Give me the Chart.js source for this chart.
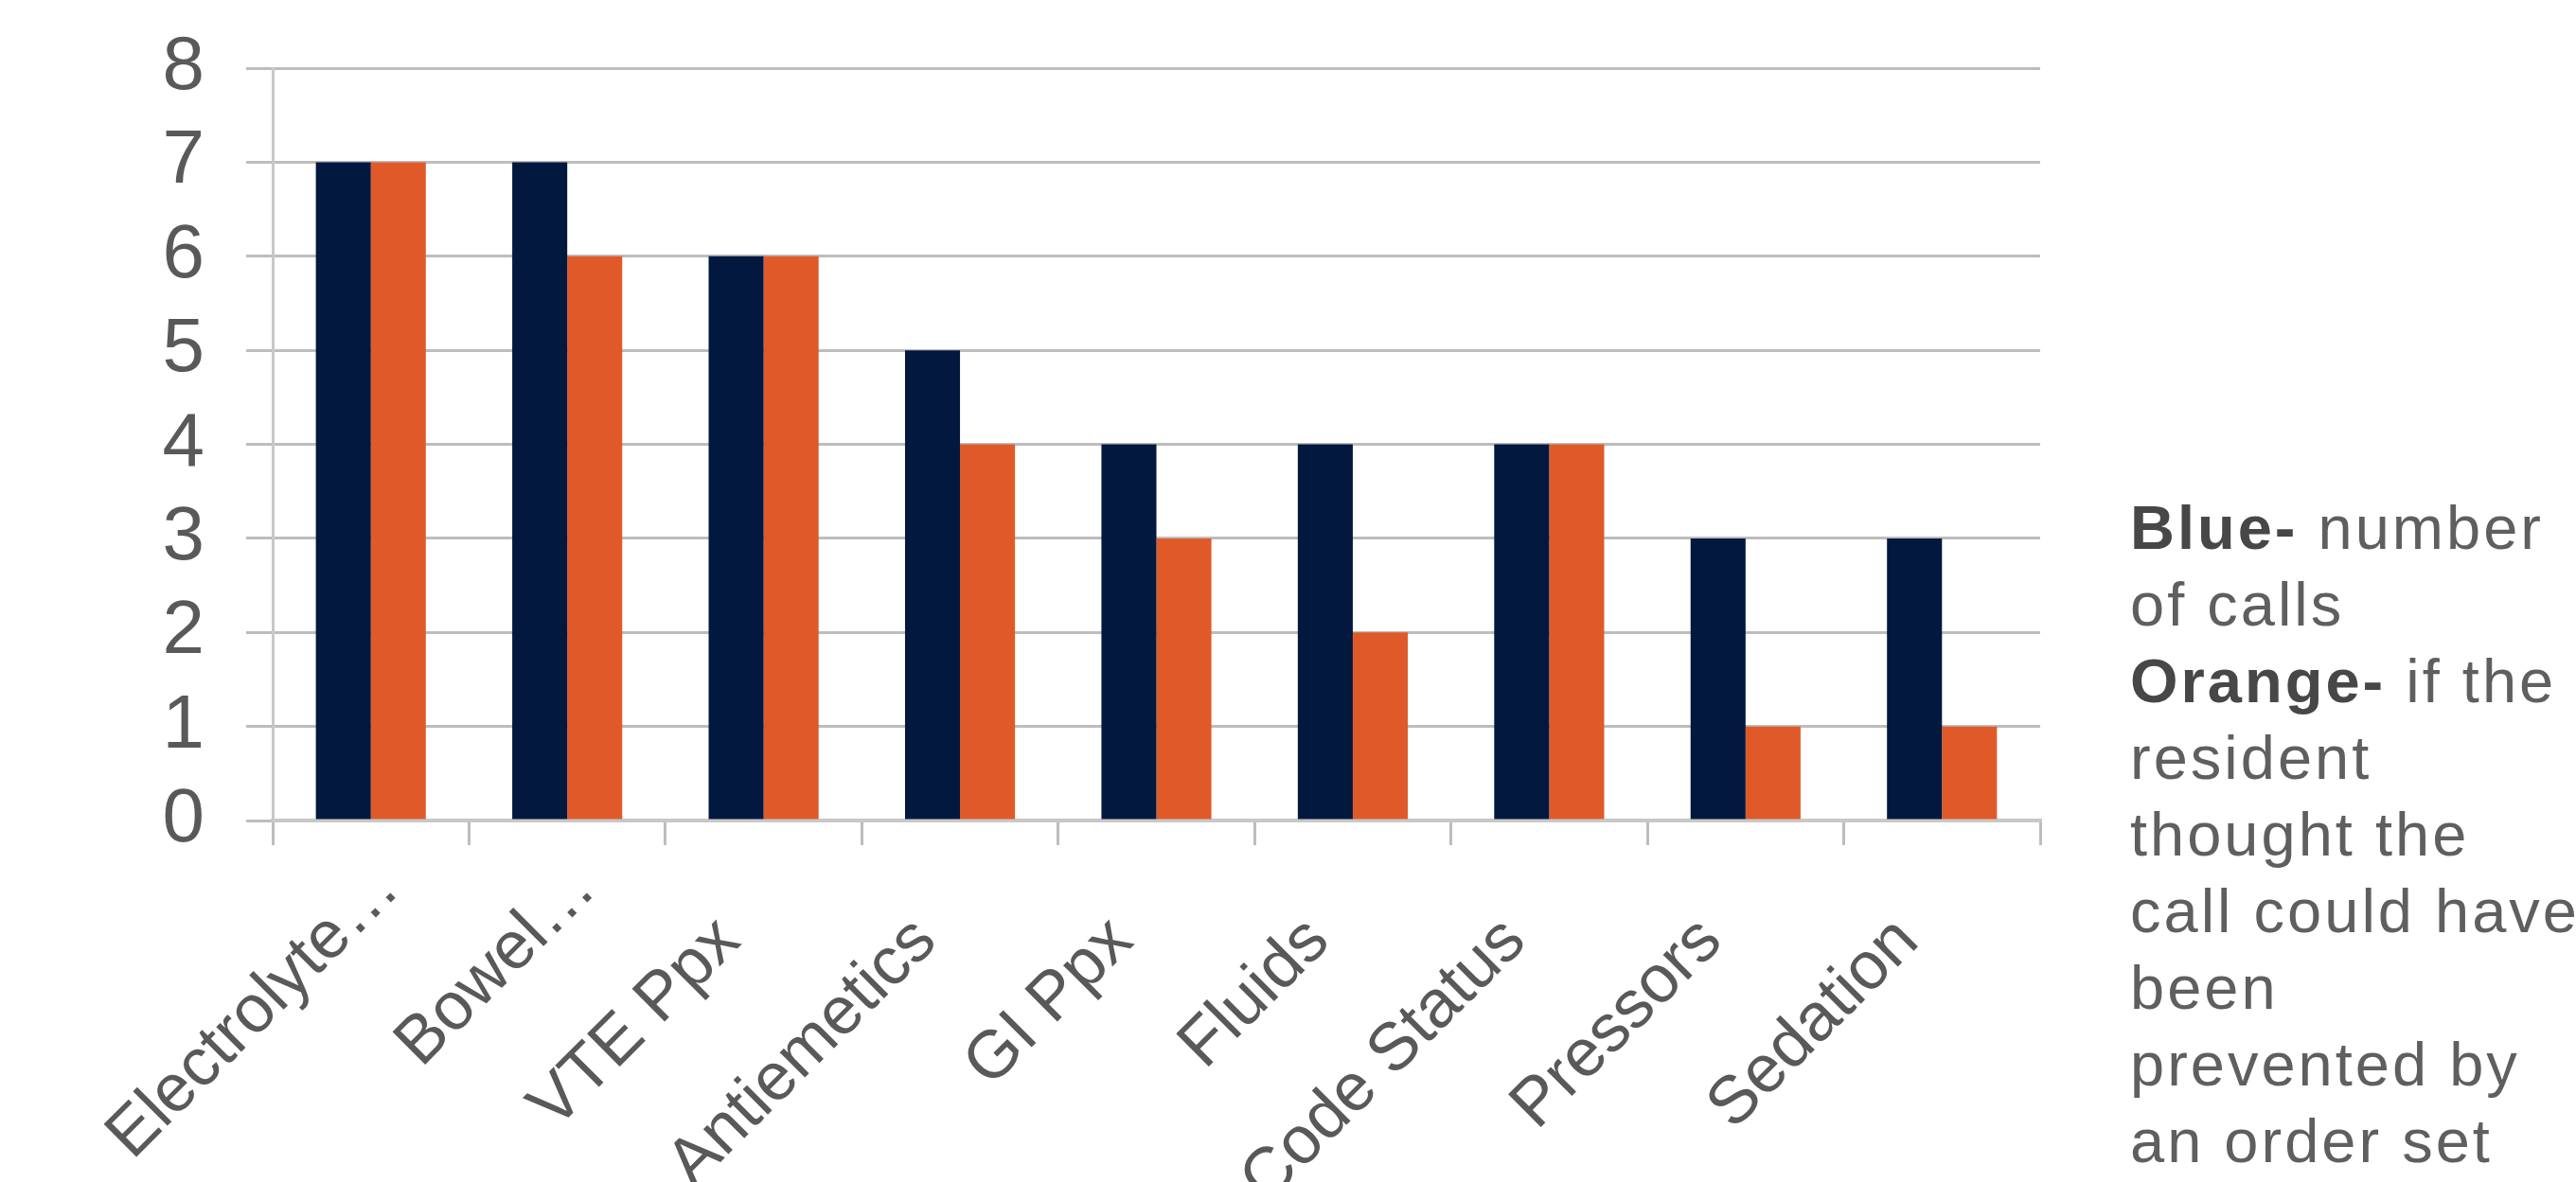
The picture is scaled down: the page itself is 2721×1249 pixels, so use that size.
<!DOCTYPE html>
<html>
<head>
<meta charset="utf-8">
<script src="https://cdn.jsdelivr.net/npm/chart.js@4.4.1/dist/chart.umd.min.js"></script>
<style>
  html, body { margin: 0; padding: 0; background: #ffffff; }
  #wrap { position: relative; width: 2721px; height: 1249px; overflow: hidden; }
  #note {
    position: absolute;
    left: 2250px;
    top: 517px;
    font-family: "Liberation Sans", Arial, sans-serif;
    font-size: 65px;
    line-height: 81px;
    letter-spacing: 3px;
    color: #5f5f5f;
    white-space: nowrap;
  }
  #note b { color: #474747; }
</style>
</head>
<body>
<div id="wrap">
  <canvas id="chart" width="2721" height="1249"></canvas>
  <div id="note">
    <b>Blue-</b> number<br>
    of calls<br>
    <b>Orange-</b> if the<br>
    resident<br>
    thought the<br>
    call could have<br>
    been<br>
    prevented by<br>
    an order set
  </div>
</div>
<script>
const categories = ["Electrolyte…", "Bowel…", "VTE Ppx", "Antiemetics", "GI Ppx", "Fluids", "Code Status", "Pressors", "Sedation"];
const calls = [7, 7, 6, 5, 4, 4, 4, 3, 3];
const preventable = [7, 6, 6, 4, 3, 2, 4, 1, 1];

const NAVY = "#03183f";
const ORANGE = "#e05a29";
const TEXT = "#595959";
const GRID = "#bdbdbd";

// truncated labels sit a bit further up along the slant in the original
const ellipsisShift = {
  id: "ellipsisShift",
  beforeDraw(chart) {
    const items = chart.scales.x.getLabelItems();
    items.forEach((item) => {
      if (String(item.label).endsWith("…") && !item.shifted) {
        item.options.translation[0] += 55;
        item.options.translation[1] -= 55;
        item.shifted = true;
      }
    });
  },
};

const ctx = document.getElementById("chart").getContext("2d");

new Chart(ctx, {
  type: "bar",
  data: {
    labels: categories,
    datasets: [
      { label: "Blue", data: calls, backgroundColor: NAVY },
      { label: "Orange", data: preventable, backgroundColor: ORANGE },
    ],
  },
  options: {
    responsive: false,
    animation: false,
    devicePixelRatio: 1,
    layout: { padding: { top: 72, right: 566, bottom: 0, left: 0 } },
    datasets: {
      bar: { barPercentage: 1.0, categoryPercentage: 0.56 },
    },
    plugins: {
      legend: { display: false },
      tooltip: { enabled: false },
    },
    scales: {
      x: {
        grid: {
          display: true,
          drawOnChartArea: false,
          drawTicks: true,
          tickLength: 26,
          color: GRID,
          lineWidth: 3,
        },
        border: { display: true, color: "#c8c8c8", width: 4 },
        ticks: {
          color: TEXT,
          font: { family: "Liberation Sans", size: 71 },
          minRotation: 45,
          maxRotation: 45,
          padding: 60,
          labelOffset: -36,
          autoSkip: false,
        },
        afterFit: (scale) => {
          scale.height = 1249 - 867;
        },
      },
      y: {
        min: 0,
        max: 8,
        ticks: {
          stepSize: 1,
          autoSkip: false,
          color: TEXT,
          font: { family: "Liberation Sans", size: 80 },
          padding: 44,
        },
        grid: {
          color: GRID,
          lineWidth: 3,
          tickLength: 28,
        },
        border: { display: true, color: "#c8c8c8", width: 3 },
        afterFit: (scale) => {
          // keep the plot top on the "8" gridline, labels may overhang
          scale.width = 288;
          scale.paddingTop = 20;
          scale.paddingBottom = 20;
        },
      },
    },
  },
  plugins: [ellipsisShift],
});
</script>
</body>
</html>
